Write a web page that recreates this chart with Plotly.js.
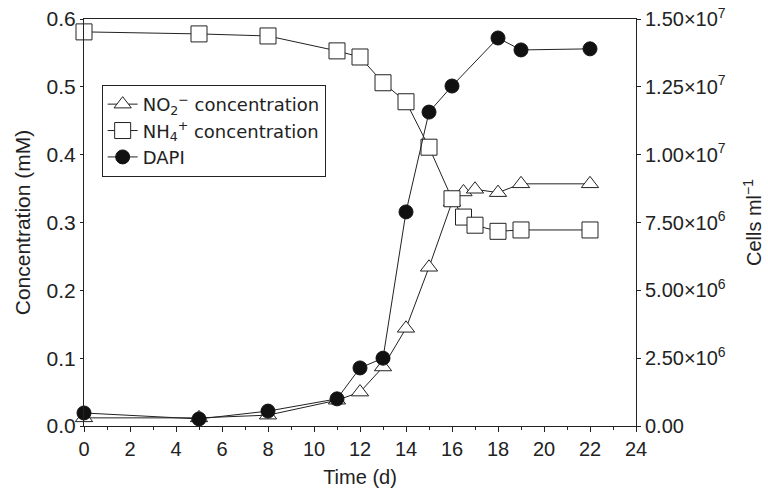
<!DOCTYPE html>
<html>
<head>
<meta charset="utf-8">
<script src="https://cdn.plot.ly/plotly-3.0.1.min.js"></script>
<style>html,body{margin:0;padding:0;background:#fff;}#chart{width:768px;height:494px;}</style>
</head>
<body>
<div id="chart"></div>
<script>
// Time (days)
const no2Days = [0, 5, 8, 11, 12, 13, 14, 15, 16, 16.5, 17, 18, 19, 22];
const no2Conc = [0.012, 0.012, 0.016, 0.038, 0.050, 0.087, 0.144, 0.234, 0.330, 0.345, 0.349, 0.344, 0.357, 0.357];

const nh4Days = [0, 5, 8, 11, 12, 13, 14, 15, 16, 16.5, 17, 18, 19, 22];
const nh4Conc = [0.581, 0.578, 0.575, 0.553, 0.544, 0.506, 0.478, 0.411, 0.335, 0.308, 0.296, 0.287, 0.289, 0.289];

const dapiDays = [0, 5, 8, 11, 12, 13, 14, 15, 16, 18, 19, 22];
const dapiCells = [4.8e5, 2.6e5, 5.5e5, 1.0e6, 2.14e6, 2.5e6, 7.89e6, 1.157e7, 1.253e7, 1.43e7, 1.386e7, 1.39e7];

const xTickVals = [0, 2, 4, 6, 8, 10, 12, 14, 16, 18, 20, 22, 24];
const leftTickVals = [0, 0.1, 0.2, 0.3, 0.4, 0.5, 0.6];
const leftTickText = ['0.0', '0.1', '0.2', '0.3', '0.4', '0.5', '0.6'];
const rightTickVals = [0, 2.5e6, 5.0e6, 7.5e6, 1.0e7, 1.25e7, 1.5e7];
const rightTickText = ['0.00', '2.50×10<sup>6</sup>', '5.00×10<sup>6</sup>', '7.50×10<sup>6</sup>',
  '1.00×10<sup>7</sup>', '1.25×10<sup>7</sup>', '1.50×10<sup>7</sup>'];

const font = 'Liberation Sans, Arial, sans-serif';
const ink = '#222';

const traces = [
  {
    x: no2Days, y: no2Conc, type: 'scatter', mode: 'lines+markers',
    name: 'NO<sub>2</sub><sup>−</sup> concentration',
    line: {color: ink, width: 1},
    marker: {symbol: 'triangle-up', size: 15, color: '#fff', line: {color: ink, width: 1}},
    cliponaxis: false, yaxis: 'y'
  },
  {
    x: nh4Days, y: nh4Conc, type: 'scatter', mode: 'lines+markers',
    name: 'NH<sub>4</sub><sup>+</sup> concentration',
    line: {color: ink, width: 1},
    marker: {symbol: 'square', size: 16, color: '#fff', line: {color: ink, width: 1}},
    cliponaxis: false, yaxis: 'y'
  },
  {
    x: dapiDays, y: dapiCells, type: 'scatter', mode: 'lines+markers',
    name: 'DAPI',
    line: {color: ink, width: 1},
    marker: {symbol: 'circle', size: 14, color: '#111', line: {color: '#111', width: 1}},
    cliponaxis: false, yaxis: 'y2'
  }
];

const layout = {
  width: 768, height: 494,
  margin: {l: 84, r: 132, t: 19, b: 68},
  paper_bgcolor: '#fff', plot_bgcolor: '#fff',
  font: {family: font, size: 20, color: ink},
  showlegend: true,
  legend: {
    x: 0.032, y: 0.838, xanchor: 'left', yanchor: 'top',
    bgcolor: '#fff', bordercolor: ink, borderwidth: 1,
    font: {family: 'DejaVu Sans, sans-serif', size: 18, color: ink},
    tracegroupgap: 0, itemwidth: 30
  },
  xaxis: {
    range: [0, 24], tickvals: xTickVals,
    ticks: 'outside', ticklen: 5, tickwidth: 1, tickcolor: ink,
    minor: {dtick: 1, ticks: 'outside', ticklen: 3, tickcolor: ink},
    showline: true, linecolor: ink, linewidth: 1, mirror: true,
    showgrid: false, zeroline: false,
    tickfont: {size: 20},
    title: {text: 'Time (d)', font: {size: 20}, standoff: 10}
  },
  yaxis: {
    range: [0, 0.6], tickvals: leftTickVals, ticktext: leftTickText,
    ticks: 'outside', ticklen: 3, tickwidth: 1, tickcolor: ink,
    showline: true, linecolor: ink, linewidth: 1,
    showgrid: false, zeroline: false,
    tickfont: {size: 21},
    title: {text: 'Concentration (mM)', font: {size: 21}, standoff: 10}
  },
  yaxis2: {
    overlaying: 'y', side: 'right',
    range: [0, 1.5e7], tickvals: rightTickVals, ticktext: rightTickText,
    ticks: 'outside', ticklen: 4, tickwidth: 1, tickcolor: ink,
    showline: true, linecolor: ink, linewidth: 1,
    showgrid: false, zeroline: false,
    tickfont: {size: 20},
    title: {text: 'Cells ml<sup>−1</sup>', font: {size: 20}, standoff: 22}
  }
};

Plotly.newPlot('chart', traces, layout, {displayModeBar: false, staticPlot: true});
</script>
</body>
</html>
